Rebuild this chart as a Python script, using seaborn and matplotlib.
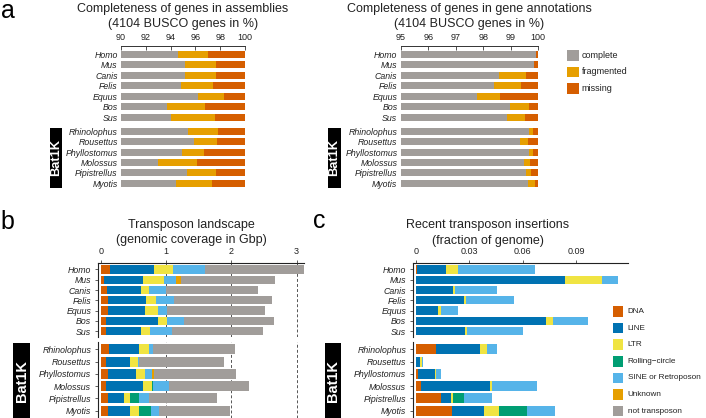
import numpy as np
import pandas as pd
import matplotlib
matplotlib.use("Agg")
import matplotlib.pyplot as plt
from matplotlib.patches import Rectangle
import seaborn as sns

sns.set_theme(style="white")
plt.rcParams["font.family"] = ["Liberation Sans", "DejaVu Sans"]

# ---------------- data ----------------
mammals = ["Homo", "Mus", "Canis", "Felis", "Equus", "Bos", "Sus"]
bats = ["Rhinolophus", "Rousettus", "Phyllostomus", "Molossus", "Pipistrellus", "Myotis"]

# a: BUSCO completeness in assemblies (%)
asm_complete = [94.6, 95.2, 95.2, 94.8, 96.2, 93.7, 94.05, 95.4, 95.85, 94.9, 92.95, 95.35, 94.4]
asm_fragmented = [2.45, 2.5, 2.5, 2.6, 2.1, 3.1, 3.55, 2.4, 1.9, 1.8, 3.15, 2.35, 2.95]
asm_missing = [2.95, 2.3, 2.3, 2.6, 1.7, 3.2, 2.4, 2.2, 2.25, 3.3, 3.9, 2.3, 2.65]

# a: BUSCO completeness in gene annotations (%)
ann_complete = [99.92, 99.83, 98.57, 98.39, 97.78, 98.97, 98.85, 99.65, 99.33, 99.65, 99.48, 99.54, 99.62]
ann_fragmented = [0.0, 0.0, 0.98, 0.97, 0.84, 0.69, 0.68, 0.17, 0.31, 0.14, 0.21, 0.19, 0.25]
ann_missing = [0.08, 0.17, 0.45, 0.64, 1.38, 0.34, 0.47, 0.18, 0.36, 0.21, 0.31, 0.27, 0.13]

busco_labels = ["complete", "fragmented", "missing"]
busco_ticks_asm = [90, 92, 94, 96, 98, 100]
busco_ticks_ann = [95, 96, 97, 98, 99, 100]

# b: transposon landscape (Gbp)
tl_dna = [0.14, 0.05, 0.09, 0.10, 0.11, 0.08, 0.08, 0.13, 0.08, 0.10, 0.08, 0.10, 0.11]
tl_line = [0.67, 0.60, 0.53, 0.59, 0.57, 0.79, 0.53, 0.46, 0.37, 0.44, 0.57, 0.25, 0.34]
tl_ltr = [0.30, 0.32, 0.12, 0.15, 0.19, 0.14, 0.14, 0.14, 0.11, 0.14, 0.13, 0.09, 0.13]
tl_rc = [0, 0, 0, 0, 0, 0, 0, 0, 0, 0, 0.015, 0.15, 0.18]
tl_sine = [0.49, 0.18, 0.25, 0.28, 0.14, 0.26, 0.34, 0.06, 0.03, 0.10, 0.25, 0.15, 0.13]
tl_unknown = [0, 0.07, 0, 0, 0, 0, 0, 0, 0, 0.04, 0, 0, 0]
tl_not = [1.51, 1.45, 1.42, 1.50, 1.50, 1.38, 1.39, 1.27, 1.29, 1.25, 1.23, 1.04, 1.09]
tl_ticks = [0, 1, 2, 3]

# c: recent transposon insertions (fraction of genome)
rc_dna = [0.0005, 0, 0, 0, 0, 0, 0, 0.0110, 0, 0.0009, 0.0030, 0.0140, 0.0200]
rc_line = [0.0162, 0.0838, 0.0210, 0.0271, 0.0122, 0.0732, 0.0273, 0.0249, 0.0024, 0.0098, 0.0387, 0.0055, 0.0182]
rc_ltr = [0.0067, 0.0204, 0.0007, 0.0008, 0.0020, 0.0037, 0.0015, 0.0038, 0.0007, 0.0007, 0.0012, 0.0015, 0.0082]
rc_rc = [0, 0, 0, 0, 0, 0, 0, 0, 0, 0, 0, 0.0060, 0.0157]
rc_sine = [0.0434, 0.0094, 0.0238, 0.0273, 0.0092, 0.0195, 0.0315, 0.0058, 0.0006, 0.0024, 0.0252, 0.0155, 0.0158]
rc_unknown = [0] * 13
rc_ticks = [0, 0.03, 0.06, 0.09]
rc_ticklabels = ["0", "0.03", "0.06", "0.09"]

te_labels = ["DNA", "LINE", "LTR", "Rolling\u2212circle", "SINE or Retroposon", "Unknown", "not transposon"]

# ---------------- style ----------------
GRAY = "#A19D9A"
C_ORANGE = "#E69F00"
C_VERM = "#D55E00"
C_BLUE = "#0072B2"
C_YELLOW = "#F0E442"
C_GREEN = "#009E73"
C_SKY = "#56B4E9"
busco_colors = [GRAY, C_ORANGE, C_VERM]
te_colors = [C_VERM, C_BLUE, C_YELLOW, C_GREEN, C_SKY, C_ORANGE, GRAY]
TXT = "#222222"

W, H = 706, 418
fig = plt.figure(figsize=(W / 100, H / 100), dpi=100)
fig.patch.set_facecolor("white")


def add_ax(x0, y0, x1, y1):
    ax = fig.add_axes([x0 / W, 1 - y1 / H, (x1 - x0) / W, (y1 - y0) / H])
    ax.set_facecolor("none")
    return ax


def ftext(x, y, s, **kw):
    fig.text(x / W, 1 - y / H, s, **kw)


def frect(x0, y0, x1, y1, color):
    fig.add_artist(Rectangle((x0 / W, 1 - y1 / H), (x1 - x0) / W, (y1 - y0) / H,
                             transform=fig.transFigure, facecolor=color, edgecolor="none"))


def stacked(ax, species, layers, colors, width):
    cum = np.cumsum(np.array(layers, dtype=float), axis=0)
    for i in range(len(layers) - 1, -1, -1):
        df = pd.DataFrame({"species": species, "value": cum[i]})
        sns.barplot(data=df, x="value", y="species", order=species, orient="h",
                    color=colors[i], saturation=1, width=width, linewidth=0,
                    errorbar=None, ax=ax, zorder=2)
    ax.set_xlabel("")
    ax.set_ylabel("")


def style_y(ax, ticks_visible, pad):
    for lab in ax.get_yticklabels():
        lab.set_fontstyle("italic")
        lab.set_color(TXT)
    ax.tick_params(axis="y", labelsize=6.3, pad=pad, left=ticks_visible,
                   length=2.5 if ticks_visible else 0, width=0.6, color="#444444")


# ---------------- panel a ----------------
def panel_a(x0, x1, comp, frag, miss, xlim, ticks):
    top = add_ax(x0, 46, x1, 123.5)
    bot = add_ax(x0, 125, x1, 189.5)
    for ax, sp, sl in [(top, mammals, slice(0, 7)), (bot, bats, slice(7, 13))]:
        stacked(ax, sp, [comp[sl], frag[sl], miss[sl]], busco_colors, 0.68)
        ax.set_xlim(*xlim)
        for s in ["left", "right", "bottom", "top"]:
            ax.spines[s].set_visible(False)
        style_y(ax, False, 2.4)
    top.set_ylim(6.6, -0.78)
    bot.set_ylim(5.6, -0.6)
    top.spines["top"].set_visible(True)
    top.spines["top"].set_color("#333333")
    top.spines["top"].set_linewidth(0.7)
    top.xaxis.tick_top()
    top.set_xticks(ticks)
    top.set_xticklabels([str(t) for t in ticks])
    top.tick_params(axis="x", direction="in", length=3, width=0.6, color="#333333",
                    labelsize=6.5, labelcolor=TXT, pad=3, top=True, bottom=False)
    bot.set_xticks([])
    return top, bot


panel_a(121, 245, asm_complete, asm_fragmented, asm_missing, (90, 100), busco_ticks_asm)
panel_a(400.7, 538.3, ann_complete, ann_fragmented, ann_missing, (95, 100), busco_ticks_ann)

ftext(183, 9, "Completeness of genes in assemblies", ha="center", va="center", fontsize=9, color=TXT)
ftext(183, 24, "(4104 BUSCO genes in %)", ha="center", va="center", fontsize=9, color=TXT)
ftext(469, 9, "Completeness of genes in gene annotations", ha="center", va="center", fontsize=9, color=TXT)
ftext(469, 24, "(4104 BUSCO genes in %)", ha="center", va="center", fontsize=9, color=TXT)

# legend a
for k, (lab, col) in enumerate(zip(busco_labels, busco_colors)):
    yc = 55.3 + k * 16.6
    frect(567.3, yc - 5.4, 578.6, yc + 5.4, col)
    ftext(581.7, yc, lab, ha="left", va="center", fontsize=6.5, color=TXT)

# Bat1K boxes (a)
for bx0, bx1 in [(50, 62.3), (328.3, 340.5)]:
    frect(bx0, 127.7, bx1, 187.7, "black")
    ftext((bx0 + bx1) / 2, 157.7, "Bat1K", rotation=90, ha="center", va="center",
          color="white", fontsize=9.3, fontweight="bold")


# ---------------- panels b and c ----------------
def panel_bc(x0, x1, layers, xlim, ticks, ticklabels, dashed):
    top = add_ax(x0, 263.3, x1, 337.3)
    bot = add_ax(x0, 342, x1, 418)
    for ax, sp, sl in [(top, mammals, slice(0, 7)), (bot, bats, slice(7, 13))]:
        stacked(ax, sp, [l[sl] for l in layers], te_colors[:len(layers)], 0.8)
        ax.set_xlim(*xlim)
        for s in ["right", "bottom", "top"]:
            ax.spines[s].set_visible(False)
        ax.spines["left"].set_color("#222222")
        ax.spines["left"].set_linewidth(0.8)
        style_y(ax, True, 2.2)
        if dashed:
            for v in ticks[1:]:
                ax.axvline(v, ls=(0, (3, 2.2)), color="#555555", lw=0.7, zorder=0.5)
    top.set_ylim(6.6, -0.6)
    bot.set_ylim(5.6, -0.6)
    top.spines["top"].set_visible(True)
    top.spines["top"].set_color("#222222")
    top.spines["top"].set_linewidth(0.8)
    top.xaxis.tick_top()
    top.set_xticks(ticks)
    top.set_xticklabels(ticklabels)
    top.tick_params(axis="x", direction="out", length=2.5, width=0.6, color="#444444",
                    labelsize=6.5, labelcolor=TXT, pad=2.5, top=True, bottom=False)
    bot.set_xticks([])
    return top, bot


panel_bc(97.7, 304, [tl_dna, tl_line, tl_ltr, tl_rc, tl_sine, tl_unknown, tl_not],
         (-0.0506, 3.113), tl_ticks, [str(t) for t in tl_ticks], True)
panel_bc(412.7, 628, [rc_dna, rc_line, rc_ltr, rc_rc, rc_sine, rc_unknown],
         (-0.00185, 0.119), rc_ticks, rc_ticklabels, False)

ftext(191.7, 225, "Transposon landscape", ha="center", va="center", fontsize=9, color=TXT)
ftext(191.7, 240, "(genomic coverage in Gbp)", ha="center", va="center", fontsize=9, color=TXT)
ftext(487.5, 225, "Recent transposon insertions", ha="center", va="center", fontsize=9, color=TXT)
ftext(487.5, 241, "(fraction of genome)", ha="center", va="center", fontsize=9, color=TXT)

# legend c
for k, (lab, col) in enumerate(zip(te_labels, te_colors)):
    yc = 311.5 + k * 16.6
    frect(612.7, yc - 5.3, 623.3, yc + 5.3, col)
    ftext(627.5, yc, lab, ha="left", va="center", fontsize=5.9, color=TXT)

# Bat1K boxes (b, c)
for bx0, bx1 in [(13.3, 30), (325, 340.5)]:
    frect(bx0, 343.3, bx1, 420, "black")
    ftext((bx0 + bx1) / 2, 380.5, "Bat1K", rotation=90, ha="center", va="center",
          color="white", fontsize=10.5, fontweight="bold")

# panel letters
ftext(0.5, 17.8, "a", ha="left", va="baseline", fontsize=18, color="black")
ftext(0.5, 229.3, "b", ha="left", va="baseline", fontsize=18, color="black")
ftext(313, 228.3, "c", ha="left", va="baseline", fontsize=18, color="black")

fig.savefig("out.png", dpi=100, facecolor="white")
